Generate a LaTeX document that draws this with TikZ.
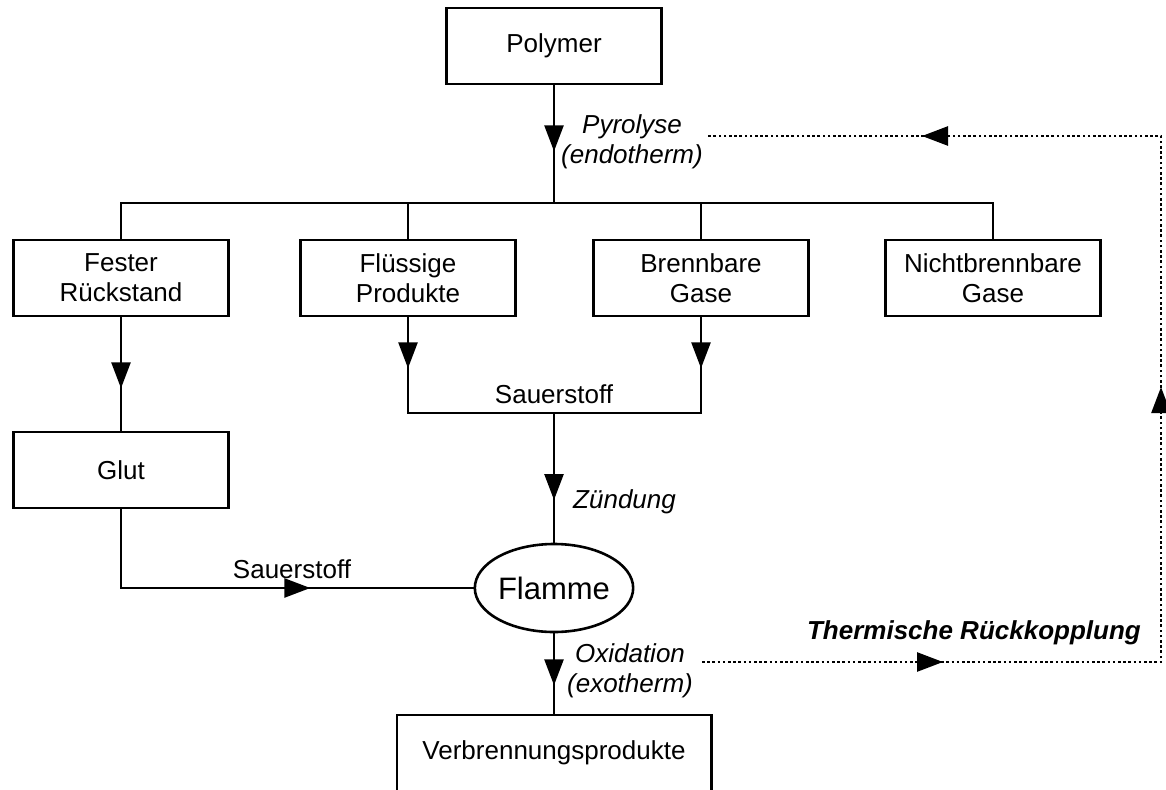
\documentclass[tikz,border=0pt]{standalone}
\usepackage{fontspec}
\setmainfont{Liberation Sans}
\usetikzlibrary{arrows.meta,decorations.markings,shapes.geometric}
\tikzset{
  box/.style={draw, line width=2.6pt, minimum width=215pt, minimum height=76pt, align=center, inner sep=0pt, font=\fontsize{26}{30}\selectfont},
  conn/.style={line width=2.6pt},
  tipat/.style={postaction={decorate}, decoration={markings, mark=at position #1 with {\arrow{Triangle[length=26pt,width=19pt]}}}},
  fb/.style={line width=2.6pt, dash pattern=on 2.6pt off 2.6pt},
  fbtips/.style={postaction={decorate}, decoration={markings,
     mark=at position 241pt with {\arrow{Triangle[length=26pt,width=19pt]}},
     mark=at position 734pt with {\arrow{Triangle[length=26pt,width=19pt]}},
     mark=at position 1224pt with {\arrow{Triangle[length=26pt,width=19pt]}}}},
  lbl/.style={inner sep=0pt, font=\fontsize{26}{30}\selectfont},
  ilbl/.style={inner sep=0pt, align=center, font=\fontsize{26}{30}\selectfont\itshape},
}
\begin{document}
\begin{tikzpicture}[x=1pt,y=-1pt]
\useasboundingbox (0,0) rectangle (1166,789);

% nodes
\node[box] (poly) at (554,46) {Polymer};
\node[box] (fest) at (121,278) {Fester\\Rückstand};
\node[box] (fl) at (408,278) {Flüssige\\Produkte};
\node[box] (bg) at (701,278) {Brennbare\\Gase};
\node[box] (nbg) at (993,278) {Nichtbrennbare\\Gase};
\node[box] (glut) at (121,470) {Glut};
\node[draw, ellipse, line width=2.6pt, minimum width=152pt, minimum height=88pt, inner sep=0pt, font=\fontsize{31}{36}\selectfont] (flame) at (554,588) {Flamme};
\node[lbl, minimum width=314pt, minimum height=76pt] (vp) at (554,753) {Verbrennungsprodukte};

\coordinate (bus) at (554,203);
\coordinate (join) at (554,413);

% labels
\node[ilbl] (pyr) at (632,142) {Pyrolyse\\(endotherm)};
\node[ilbl] (oxi) at (630,671) {Oxidation\\(exotherm)};
\node[ilbl, anchor=west] (zue) at (573,502) {Zündung};
\node[lbl] (sau1) at (554,394) {Sauerstoff};
\node[lbl] (sau2) at (292,569) {Sauerstoff};
\node[inner sep=0pt, anchor=east, font=\fontsize{26}{30}\selectfont\bfseries\itshape] (thr) at (1141,633) {Thermische Rückkopplung};

% connectors
\draw[conn, tipat=66pt] (poly.south) -- (bus);
\draw[conn] (fest.north) |- (bus) -| (nbg.north);
\draw[conn] (fl.north) -- (fl.north |- bus);
\draw[conn] (bg.north) -- (bg.north |- bus);
\draw[conn, tipat=71pt] (fest.south) -- (glut.north);
\draw[conn, tipat=51pt] (fl.south) |- (join);
\draw[conn, tipat=51pt] (bg.south) |- (join);
\draw[conn, tipat=87pt] (join) -- (flame.north);
\draw[conn, tipat=268pt] (glut.south) |- (flame.west);
\draw[conn, tipat=52pt] (flame.south) -- (vp.north);
\draw[conn] (vp.south west) -- (vp.north west) -- (vp.north east) -- (vp.south east);

% thermal feedback
\coordinate (fbB) at (702,662);
\coordinate (fbBR) at (1161,662);
\coordinate (fbTR) at (1161,136);
\coordinate (fbT) at (707,136);
\draw[fb, fbtips] (fbB) -- (fbBR) -- (fbTR) -- (fbT);
\end{tikzpicture}
\end{document}
